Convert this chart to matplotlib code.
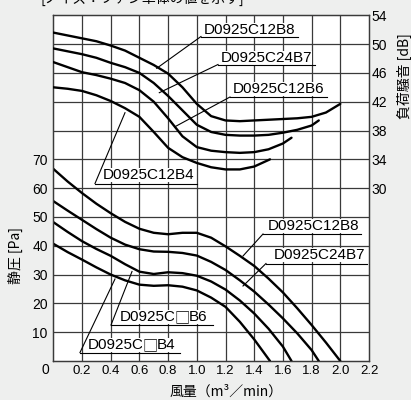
import matplotlib
matplotlib.use("Agg")
import matplotlib.pyplot as plt
from matplotlib.lines import Line2D

# ---------------- data ----------------
flow_b8 = [0.0, 0.1, 0.2, 0.3, 0.4, 0.5, 0.6, 0.7, 0.8, 0.9, 1.0, 1.1, 1.2, 1.3, 1.4, 1.5, 1.6, 1.7, 1.8, 1.9, 2.0]
pa_b8 = [66.7, 62.3, 58.3, 54.6, 51.3, 48.3, 45.9, 44.5, 44.0, 44.5, 44.5, 42.8, 39.8, 36.5, 33.0, 28.6, 23.8, 18.3, 12.5, 6.4, 0.0]
db_b8 = [51.6, 51.2, 50.8, 50.4, 49.8, 49.1, 48.1, 47.1, 45.9, 44.0, 41.7, 40.0, 39.4, 39.3, 39.4, 39.5, 39.6, 39.7, 39.9, 40.5, 41.7]

flow_b7 = [0.0, 0.1, 0.2, 0.3, 0.4, 0.5, 0.6, 0.7, 0.8, 0.9, 1.0, 1.1, 1.2, 1.3, 1.4, 1.5, 1.6, 1.7, 1.8, 1.85]
pa_b7 = [55.5, 52.2, 49.0, 45.8, 42.8, 40.4, 38.8, 38.0, 37.9, 37.5, 36.6, 34.4, 31.6, 28.0, 24.1, 19.6, 14.8, 9.6, 3.8, 0.0]
db_b7 = [49.4, 49.0, 48.6, 48.1, 47.4, 46.8, 46.0, 44.6, 42.8, 40.8, 38.8, 37.8, 37.4, 37.3, 37.3, 37.4, 37.7, 38.1, 38.7, 39.4]

flow_b6 = [0.0, 0.1, 0.2, 0.3, 0.4, 0.5, 0.6, 0.7, 0.8, 0.9, 1.0, 1.1, 1.2, 1.3, 1.4, 1.5, 1.6, 1.66]
pa_b6 = [48.2, 44.8, 41.6, 38.9, 36.5, 33.6, 31.0, 30.2, 30.8, 30.5, 29.6, 27.6, 24.8, 21.0, 16.5, 11.2, 5.0, 0.0]
db_b6 = [47.5, 46.8, 46.1, 45.7, 45.2, 44.6, 43.6, 42.0, 39.7, 37.2, 35.7, 35.2, 35.0, 34.9, 35.0, 35.4, 36.2, 37.0]

flow_b4 = [0.0, 0.1, 0.2, 0.3, 0.4, 0.5, 0.6, 0.7, 0.8, 0.9, 1.0, 1.1, 1.2, 1.3, 1.4, 1.51]
pa_b4 = [40.7, 37.8, 35.2, 32.5, 30.0, 28.0, 26.5, 26.1, 26.3, 25.8, 24.5, 22.0, 18.8, 13.6, 7.5, 0.0]
db_b4 = [44.0, 43.8, 43.5, 42.9, 42.1, 41.1, 39.9, 37.8, 35.6, 34.3, 33.5, 32.9, 32.6, 32.6, 33.0, 34.0]

x_ticks = [0.2, 0.4, 0.6, 0.8, 1.0, 1.2, 1.4, 1.6, 1.8, 2.0, 2.2]
x_tick_labels = ["0.2", "0.4", "0.6", "0.8", "1.0", "1.2", "1.4", "1.6", "1.8", "2.0", "2.2"]
pa_ticks = [10, 20, 30, 40, 50, 60, 70]
db_ticks = [30, 34, 38, 42, 46, 50, 54]

noise_labels = ["D0925C12B8", "D0925C24B7", "D0925C12B6", "D0925C12B4"]
pressure_labels = ["D0925C12B8", "D0925C24B7", "D0925C□B6", "D0925C□B4"]

# ---------------- figure ----------------
W, H = 411, 400
BG = "#eeefee"
fig = plt.figure(figsize=(W / 100, H / 100), dpi=100, facecolor=BG)

L, R, T, B = 53.3, 369.0, 15.3, 361.0
ax = fig.add_axes([L / W, 1 - B / H, (R - L) / W, (B - T) / H])
ax.set_facecolor("white")
ax.set_xlim(0, 2.2)
ax.set_ylim(0, 120)
ax2 = ax.twinx()
ax2.set_ylim(6, 54)

gridc = "#3a3a3a"
for a in (ax, ax2):
    for s in a.spines.values():
        s.set_color(gridc)
        s.set_linewidth(0.9)

ax.tick_params(length=0)
ax2.tick_params(length=0)

narrow = ["Liberation Sans Narrow", "Liberation Sans", "DejaVu Sans"]
sans = ["Liberation Sans", "DejaVu Sans"]
cjk = ["Noto Sans CJK JP", "DejaVu Sans"]

ax.set_xticks(x_ticks)
ax.set_xticklabels(x_tick_labels, family=narrow, fontsize=9.5)
ax.tick_params(axis="x", pad=3)
ax.set_yticks(pa_ticks)
ax.set_yticklabels([str(v) for v in pa_ticks], family=sans, fontsize=10)
ax.tick_params(axis="y", pad=4)
# grid lines every 0.2 m3/min and every 10 Pa (= 4 dB)
for i in range(1, 11):
    ax.axvline(0.2 * i, color=gridc, lw=0.9, zorder=0.5)
for j in range(1, 12):
    ax.axhline(10 * j, color=gridc, lw=0.9, zorder=0.5)

ax2.set_yticks(db_ticks)
ax2.set_yticklabels([str(v) for v in db_ticks], family=sans, fontsize=10)
ax2.tick_params(axis="y", pad=2)

lw = 1.7
for f, p in ((flow_b8, pa_b8), (flow_b7, pa_b7), (flow_b6, pa_b6), (flow_b4, pa_b4)):
    ax.plot(f, p, color="black", lw=lw, solid_capstyle="round", solid_joinstyle="round", zorder=3)
for f, d in ((flow_b8, db_b8), (flow_b7, db_b7), (flow_b6, db_b6), (flow_b4, db_b4)):
    ax2.plot(f, d, color="black", lw=lw, solid_capstyle="round", solid_joinstyle="round", zorder=3)


def fx(x):
    return x / W


def fy(y):
    return 1 - y / H


# corner zero
fig.text(fx(45), fy(370), "0", family=sans, fontsize=10, ha="center", va="center")

# axis labels
fig.text(fx(15), fy(255), "静圧 [Pa]", family=cjk, fontsize=10, rotation=90, ha="center", va="center")
fig.text(fx(404), fy(76), "負荷騒音 [dB]", family=cjk, fontsize=10, rotation=90, ha="center", va="center")
fig.text(fx(226), fy(392), "風量（m³／min）", family=cjk, fontsize=10, ha="center", va="center")
# cut-off caption at the very top
fig.text(fx(40), fy(3.0), "[ノイズ：ファン単体の値を示す]", family=cjk, fontsize=10, ha="left", va="baseline")

renderer = fig.canvas.get_renderer()
LFS = 11


def label(txt, tx, ty):
    """Draw label text; the □ glyph is drawn full-width with a CJK font."""
    parts = txt.split("□")
    x = tx
    for k, part in enumerate(parts):
        if part:
            t = fig.text(fx(x), fy(ty), part, family=sans, fontsize=LFS, ha="left", va="center", zorder=5,
                         bbox=dict(facecolor="white", edgecolor="none", pad=0.3))
            bb = t.get_window_extent(renderer)
            x = bb.x1
        if k < len(parts) - 1:
            x -= 0.8
            t = fig.text(fx(x), fy(ty + 0.5), "□", family=cjk, fontsize=LFS, ha="left", va="center", zorder=5,
                         bbox=dict(facecolor="white", edgecolor="none", pad=0.3))
            bb = t.get_window_extent(renderer)
            x = bb.x1 - 0.8


# labels: (text, text_x, text_cy, underline_y, ul_x0, ul_x1, target_px)
lab_specs = [
    (noise_labels[0], 203.5, 30, 36.5, 201, 298, (156.7, 68.3)),
    (noise_labels[1], 220.5, 58, 64.5, 218, 315, (159.3, 92.7)),
    (noise_labels[2], 232.5, 89, 97, 230, 327, (175, 126.7)),
    (noise_labels[3], 103, 175, 183.5, 95, 197, (125, 112.7)),
    (pressure_labels[0], 268, 226, 234, 263, 361, (243, 256)),
    (pressure_labels[1], 273.5, 255, 263.5, 266, 367, (243, 286)),
    (pressure_labels[2], 119.5, 317, 325, 111, 213, (132, 271.5)),
    (pressure_labels[3], 87.5, 345, 352.5, 80, 179.5, (115, 279)),
]
for txt, tx, ty, uy, u0, u1, tgt in lab_specs:
    label(txt, tx, ty)
    fig.add_artist(Line2D([fx(u0), fx(u1)], [fy(uy), fy(uy)], color="black", lw=0.8, zorder=6))
    fig.add_artist(Line2D([fx(u0), fx(tgt[0])], [fy(uy), fy(tgt[1])], color="black", lw=0.8, zorder=6))

fig.savefig("out.png", dpi=100, facecolor=BG)
